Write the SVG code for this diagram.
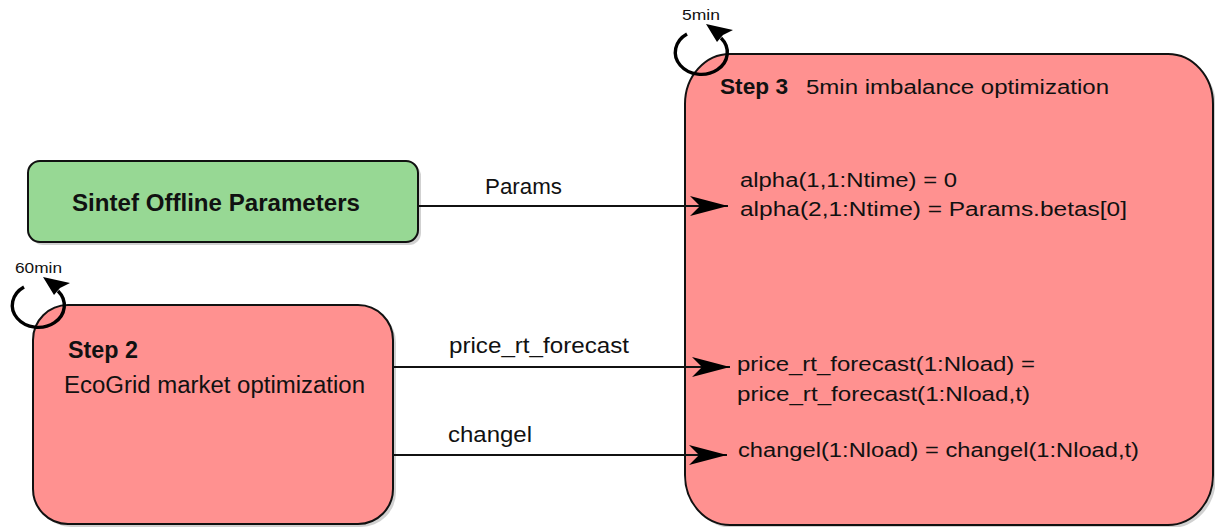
<svg xmlns="http://www.w3.org/2000/svg" width="1215" height="527" viewBox="0 0 1215 527">
  <style>
    .box { stroke: #111; stroke-width: 2; }
    .red { fill: #FF9190; }
    .green { fill: #97D894; }
    .shadow { fill: #9a9a9a; opacity: 0.45; }
    .t { font-family: "Liberation Sans", Arial, sans-serif; fill: #111; }
    .b { font-weight: bold; }
    .edge { stroke: #111; stroke-width: 2; fill: none; }
    .loop { stroke: #000; stroke-width: 3.4; fill: none; }
  </style>
  <defs>
    <marker id="arrow" markerUnits="userSpaceOnUse" markerWidth="40" markerHeight="24" refX="38" refY="11" orient="auto">
      <path d="M0,1 L38,11 L0,21 L10,11 Z" fill="#000"/>
    </marker>
    <!-- circular repeat arrow, centred at 0,0 -->
    <g id="loop">
      <path class="loop" d="M-15,-19 A26,22 0 1,0 19,-15"/>
      <path d="M4,-29 L31,-23 L21,-18 L15,-11 Z" fill="#000"/>
    </g>
  </defs>

  <!-- Step 3 -->
  <g id="step3">
    <rect class="shadow" x="688" y="57" width="528" height="471" rx="45" ry="50"/>
    <rect class="box red" x="685" y="54" width="528" height="471" rx="45" ry="50"/>
    <text class="t b" x="720" y="94" font-size="22" textLength="68" lengthAdjust="spacingAndGlyphs">Step 3</text>
    <text class="t" x="806" y="94" font-size="20" textLength="303" lengthAdjust="spacingAndGlyphs">5min imbalance optimization</text>
    <text class="t" x="740" y="187" font-size="20" textLength="217" lengthAdjust="spacingAndGlyphs">alpha(1,1:Ntime) = 0</text>
    <text class="t" x="740" y="216" font-size="20" textLength="387" lengthAdjust="spacingAndGlyphs">alpha(2,1:Ntime) = Params.betas[0]</text>
    <text class="t" x="737" y="371" font-size="20" textLength="298" lengthAdjust="spacingAndGlyphs">price_rt_forecast(1:Nload) =</text>
    <text class="t" x="737" y="401" font-size="20" textLength="293" lengthAdjust="spacingAndGlyphs">price_rt_forecast(1:Nload,t)</text>
    <text class="t" x="738" y="457" font-size="20" textLength="401" lengthAdjust="spacingAndGlyphs">changel(1:Nload) = changel(1:Nload,t)</text>
  </g>

  <!-- Sintef offline parameters -->
  <g id="sintef">
    <rect class="shadow" x="31" y="164" width="390" height="81" rx="12"/>
    <rect class="box green" x="28" y="161" width="390" height="81" rx="12"/>
    <text class="t b" x="72" y="211" font-size="23" textLength="288" lengthAdjust="spacingAndGlyphs">Sintef Offline Parameters</text>
  </g>

  <!-- Step 2 -->
  <g id="step2">
    <rect class="shadow" x="36" y="308" width="360" height="219" rx="35"/>
    <rect class="box red" x="33" y="305" width="360" height="219" rx="35"/>
    <text class="t b" x="68" y="358" font-size="23" textLength="70" lengthAdjust="spacingAndGlyphs">Step 2</text>
    <text class="t" x="64" y="393" font-size="23" textLength="301" lengthAdjust="spacingAndGlyphs">EcoGrid market optimization</text>
  </g>

  <!-- repeat intervals -->
  <g id="loop5">
    <use href="#loop" x="702" y="53"/>
    <text class="t" x="682" y="20" font-size="14" textLength="38" lengthAdjust="spacingAndGlyphs">5min</text>
  </g>
  <g id="loop60">
    <use href="#loop" x="39" y="306"/>
    <text class="t" x="15" y="273" font-size="14" textLength="47" lengthAdjust="spacingAndGlyphs">60min</text>
  </g>

  <!-- connectors -->
  <g id="connectors">
    <line class="edge" x1="418" y1="206" x2="728" y2="206" marker-end="url(#arrow)"/>
    <text class="t" x="485" y="194" font-size="22" textLength="77" lengthAdjust="spacingAndGlyphs">Params</text>
    <line class="edge" x1="393" y1="367" x2="730" y2="367" marker-end="url(#arrow)"/>
    <text class="t" x="449" y="353" font-size="22" textLength="180" lengthAdjust="spacingAndGlyphs">price_rt_forecast</text>
    <line class="edge" x1="393" y1="455" x2="727" y2="455" marker-end="url(#arrow)"/>
    <text class="t" x="448" y="442" font-size="22" textLength="84" lengthAdjust="spacingAndGlyphs">changel</text>
  </g>
</svg>
